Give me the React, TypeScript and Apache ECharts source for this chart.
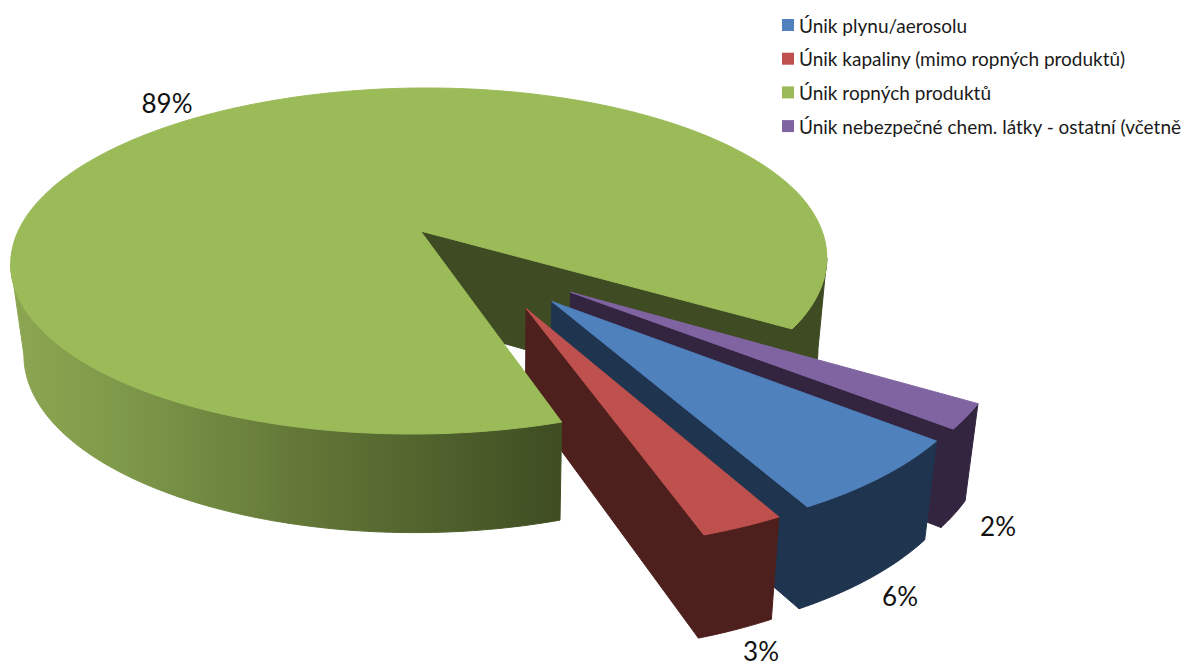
import React, { useEffect, useRef } from "react";
import * as echarts from "echarts";

const categories = [
  "Únik plynu/aerosolu",
  "Únik kapaliny (mimo ropných produktů)",
  "Únik ropných produktů",
  "Únik nebezpečné chem. látky - ostatní (včetně",
];
const values = [6.4, 2.6, 88.9, 2.1];
const topColors = ["#4F81BD", "#BE504D", "#9BBB59", "#8064A2"];
const wallColors = ["#1F344F", "#4D1F1D", "#3F4B23", "#33253F"];
const labelAnchors: [number, number][] = [
  [900, 596],
  [761, 651],
  [167, 103],
  [998, 526],
];
const zOrder = [3, 4, 5, 2];

const FONT = "Lato, 'Noto Sans', sans-serif";

// projective mapping of the pie's disc on the picture
const CX = 420.5;
const CY = 231;
const A = 402.3;
const B = 167.8;
const K = 0.1734;
const SHEAR = -0.042;
const EXPLODE = 0.25;
const X0 = 500;

const rad = (d: number) => (d * Math.PI) / 180;

// clockwise order on screen: blue, red, green, purple; purple begins at 32 degrees
const PURPLE_START = 32;
function sliceAngles(i: number): [number, number] {
  let start = PURPLE_START + values[3] * 3.6;
  for (let j = 0; j < i; j++) start += values[j] * 3.6;
  if (i === 3) start = PURPLE_START;
  return [start, start + values[i] * 3.6];
}
function offset(i: number): [number, number] {
  const g = sliceAngles(2);
  const gm = rad((g[0] + g[1]) / 2);
  if (i === 2) return [0, 0];
  const s = sliceAngles(i);
  const m = rad((s[0] + s[1]) / 2);
  return [EXPLODE * (Math.cos(m) - Math.cos(gm)), EXPLODE * (Math.sin(m) - Math.sin(gm))];
}
function top(u: number, v: number): [number, number] {
  const w = 1 - K * v;
  const y = (B * v) / w;
  const x = CX + (A * u) / w + SHEAR * y;
  return [x - Math.max(0, x - 800) * 0.035, CY + y];
}
function lower(p: [number, number]): [number, number] {
  return [X0 + (p[0] - X0) * 0.973, p[1] + 91 + (p[1] - 265) * 0.045];
}
function rim(i: number, d: number): [number, number] {
  const o = offset(i);
  return top(o[0] + Math.cos(rad(d)), o[1] + Math.sin(rad(d)));
}
function apex(i: number): [number, number] {
  const o = offset(i);
  return top(o[0], o[1]);
}
function arc(i: number, a: number, b: number) {
  const pts: [number, number][] = [];
  const n = Math.max(2, Math.ceil(Math.abs(b - a)));
  for (let t = 0; t <= n; t++) pts.push(rim(i, a + ((b - a) * t) / n));
  return pts;
}
const wall = (i: number, a: number, b: number) => {
  const upper = arc(i, a, b);
  return [...upper, ...upper.map(lower).reverse()];
};
// the angle at which the rim reaches its left or right extreme on the picture
function extremeAngle(i: number, a: number, b: number, sign: number) {
  let best = a;
  for (let d = a; d <= b; d += 0.5) {
    if (sign * rim(i, d)[0] > sign * rim(i, best)[0]) best = d;
  }
  return best;
}
const poly = (points: [number, number][], fill: any, z2: number) => ({
  type: "polygon",
  z2,
  shape: { points },
  style: { fill, stroke: fill, lineWidth: 1 },
});

function renderSlice(i: number) {
  return (_p: any, api: any) => {
    const value = api.value(0) as number;
    const [a, b] = sliceAngles(i);
    const ap = apex(i);
    const topFace: [number, number][] = [ap, ...arc(i, a, b)];
    const end = rim(i, b);
    const children: any[] = [];
    if (i === 2) {
      const grad = new echarts.graphic.LinearGradient(
        10,
        0,
        561,
        0,
        [
          { offset: 0, color: "#8CA652" },
          { offset: 0.2, color: "#7F994A" },
          { offset: 0.5, color: "#657A39" },
          { offset: 0.75, color: "#51642D" },
          { offset: 1, color: "#3F4D22" },
        ],
        true
      );
      const leftEdge = extremeAngle(i, 120, 240, -1);
      const rightEdge = extremeAngle(i, b - 60, b, 1);
      children.push(
        poly([ap, lower(ap), lower(end), end], wallColors[i], 1),
        poly(wall(i, rightEdge, b), wallColors[i], 1),
        poly(wall(i, a, leftEdge), grad, 5),
        poly(topFace, topColors[i], 6)
      );
    } else {
      const z = zOrder[i];
      children.push(
        poly([ap, lower(ap), lower(end), end], wallColors[i], z),
        poly(wall(i, a, b), wallColors[i], z),
        poly(topFace, topColors[i], z)
      );
    }
    children.push({
      type: "text",
      z2: 10,
      x: labelAnchors[i][0],
      y: labelAnchors[i][1],
      style: {
        text: `${Math.round(value)}%`,
        fill: "#111111",
        fontSize: 26,
        lineHeight: 26,
        fontFamily: FONT,
        align: "center",
        verticalAlign: "middle",
      },
    });
    return { type: "group", children };
  };
}

export default function App() {
  const ref = useRef<HTMLDivElement>(null);
  useEffect(() => {
    document.body.style.margin = "0";
    document.body.style.background = "#fff";
    const chart = echarts.init(ref.current!, undefined, { renderer: "svg" });
    chart.setOption({
      animation: false,
      backgroundColor: "#ffffff",
      legend: {
        orient: "vertical",
        left: 782,
        top: 14,
        padding: 0,
        icon: "rect",
        itemWidth: 12,
        itemHeight: 12,
        itemGap: 11.7,
        selectedMode: false,
        data: categories,
        textStyle: { fontFamily: FONT, fontSize: 19, color: "#1A1A1A", lineHeight: 22 },
      },
      series: categories.map((name, i) => ({
        type: "custom",
        name,
        coordinateSystem: "none",
        silent: true,
        itemStyle: { color: topColors[i] },
        data: [[values[i]]],
        renderItem: renderSlice(i),
      })),
    });
    return () => chart.dispose();
  }, []);
  return <div ref={ref} style={{ position: "absolute", left: 0, top: 0, width: 1185, height: 666 }} />;
}
